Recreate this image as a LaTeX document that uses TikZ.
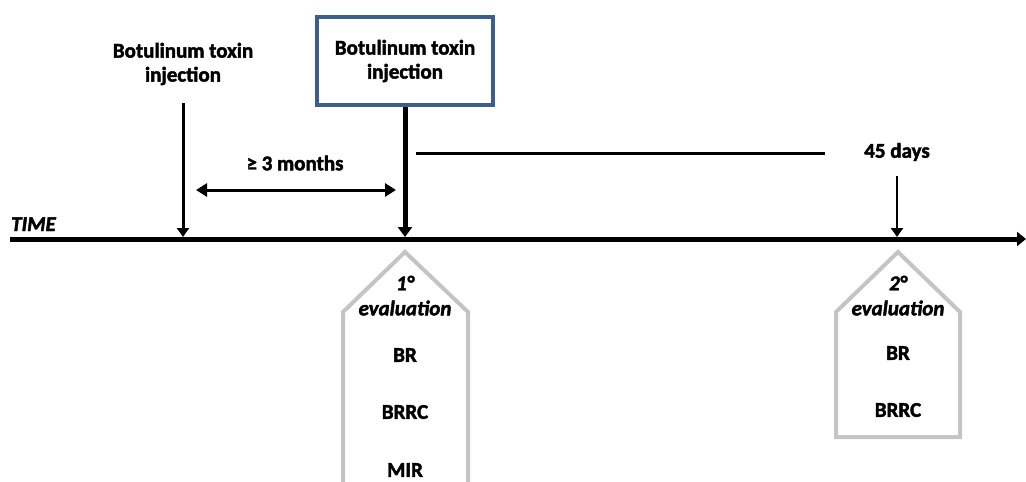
\documentclass[tikz,border=0pt]{standalone}
\usepackage{fontspec}
\setmainfont{Carlito}[BoldFeatures={FakeBold=2}, BoldItalicFeatures={FakeBold=2}]
\usetikzlibrary{arrows.meta}
\definecolor{boxblue}{HTML}{3B5E8C}
\definecolor{evalgrey}{HTML}{C4C4C4}
\tikzset{
  lbl/.style={font=\bfseries\fontsize{21}{24}\selectfont, align=center, inner sep=0pt},
  ilbl/.style={font=\bfseries\itshape\fontsize{21}{24}\selectfont, inner sep=0pt},
  timeline/.style={line width=5pt, -{Triangle[length=9pt,width=14pt]}},
  marker/.style={line width=3pt, -{Triangle[length=9pt,width=12pt]}},
  bigmarker/.style={line width=5pt, -{Triangle[length=10pt,width=14pt]}},
  evalbox/.style={draw=evalgrey, line width=4pt, line join=miter},
  span/.style={line width=3pt, {Triangle[length=11pt,width=13pt]}-{Triangle[length=11pt,width=13pt]}}
}
\begin{document}
\begin{tikzpicture}[x=1pt,y=-1pt]
\useasboundingbox (0,0) rectangle (1026,482);
\clip (0,0) rectangle (1026,482);
% timeline
\coordinate (tl) at (10,239);
\coordinate (tr) at (1026,239);
\draw[timeline] (tl) -- (tr);
\node[ilbl, anchor=base west] (time) at (11,231) {TIME};
% first injection
\node[lbl] (inj1) at (183,64) {Botulinum toxin\\injection};
\coordinate (t1top) at (183,103);
\coordinate (t1) at (183,237);
\draw[marker] (t1top) -- (t1);
% second injection (boxed)
\node[lbl, draw=boxblue, line width=4pt, minimum width=176pt, minimum height=88pt] (inj2) at (405,61) {Botulinum toxin\\injection};
\coordinate (t2) at (405,237);
\draw[bigmarker] (inj2.south) -- (t2);
% interval
\coordinate (sl) at (196,190);
\coordinate (sr) at (396,190);
\draw[span] (sl) -- (sr);
\node[lbl] (months) at (295,163) {≥ 3 months};
% 45 days
\coordinate (hl) at (416,153);
\coordinate (hr) at (825,153);
\draw[line width=3pt] (hl) -- (hr);
\node[lbl] (days) at (897,152) {45 days};
\coordinate (t3top) at (897,176);
\coordinate (t3) at (897,237);
\draw[line width=2.5pt, -{Triangle[length=9pt,width=12pt]}] (t3top) -- (t3);
% evaluation 1
\draw[evalbox] (405,252) -- (468,312) -- (468,500) -- (343,500) -- (343,312) -- cycle;
\node[ilbl] (e1n) at (405,283) {1°};
\node[ilbl] (e1t) at (405,308) {evaluation};
\node[lbl] (e1a) at (405,355) {BR};
\node[lbl] (e1b) at (405,412) {BRRC};
\node[lbl] (e1c) at (405,470) {MIR};
% evaluation 2
\draw[evalbox] (898,252) -- (960,312) -- (960,437) -- (836,437) -- (836,312) -- cycle;
\node[ilbl] (e2n) at (898,283) {2°};
\node[ilbl] (e2t) at (898,308) {evaluation};
\node[lbl] (e2a) at (898,353) {BR};
\node[lbl] (e2b) at (898,410) {BRRC};
\end{tikzpicture}
\end{document}
